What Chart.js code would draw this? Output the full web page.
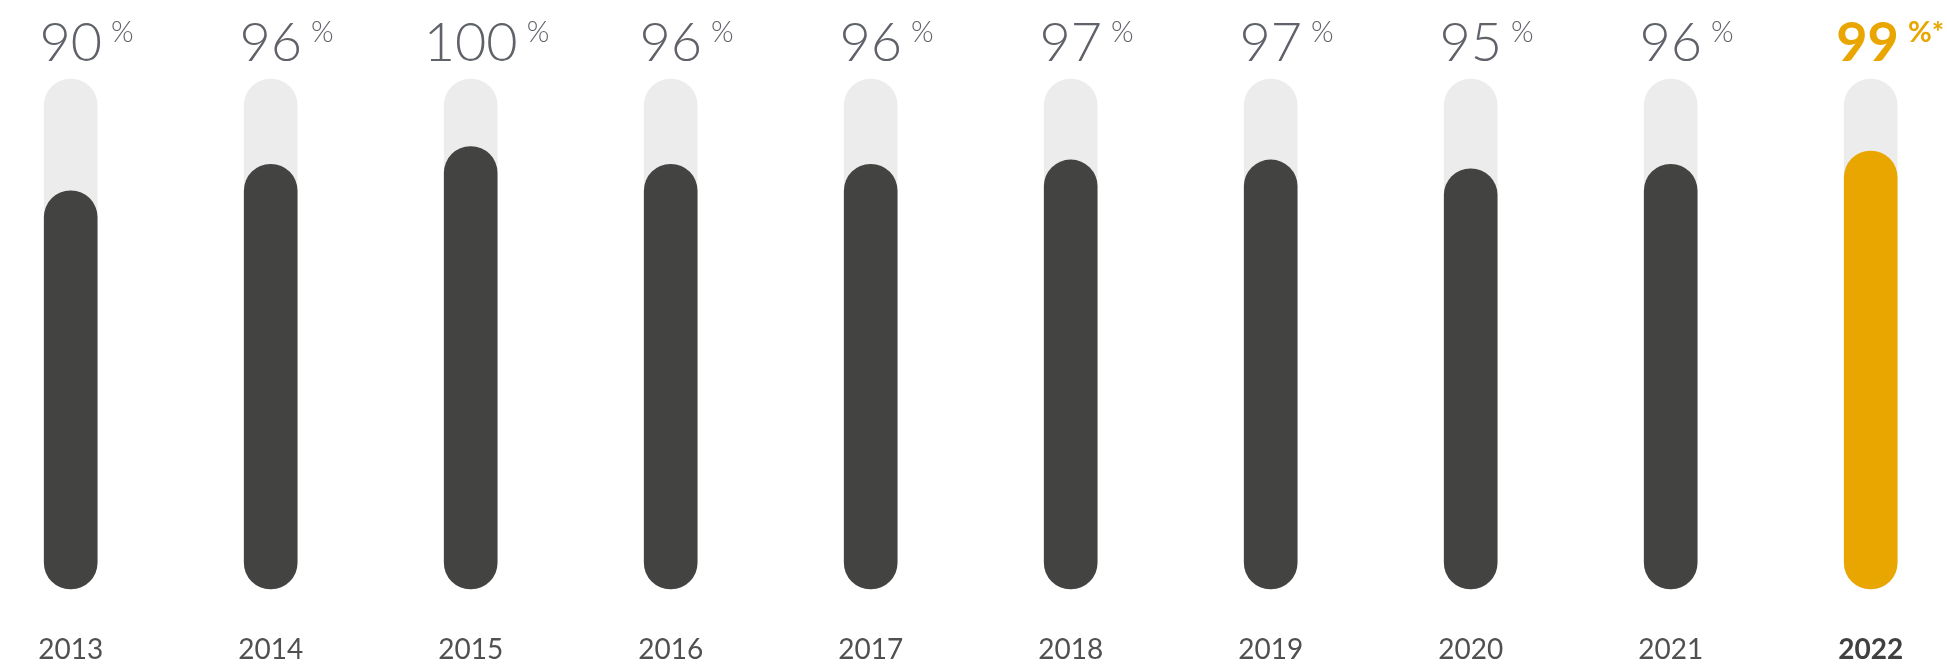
<!DOCTYPE html>
<html>
<head>
<meta charset="utf-8">
<script src="https://cdn.jsdelivr.net/npm/chart.js@4/dist/chart.umd.min.js"></script>
<style>
  html, body { margin: 0; padding: 0; background: #ffffff; }
  #wrap { width: 1947px; height: 665px; position: relative; }
</style>
</head>
<body>
<div id="wrap"><canvas id="c" width="1947" height="665"></canvas></div>
<script>
// ---- data ----
const years = ['2013', '2014', '2015', '2016', '2017', '2018', '2019', '2020', '2021', '2022'];
const values = [90, 96, 100, 96, 96, 97, 97, 95, 96, 99];
const suffixes = ['%', '%', '%', '%', '%', '%', '%', '%', '%', '%*'];
const highlightYear = '2022';
const scaleMax = 115.3;   // top of the light track
const trackValues = years.map(() => scaleMax);

// ---- style ----
const DARK = '#434341';
const GOLD = '#e9a600';
const TRACK = '#ececec';
const LABEL_GREY = '#606269';
const YEAR_GREY = '#505050';
const FONT = 'Lato, "Open Sans", sans-serif';

const labelPlugin = {
  id: 'labels',
  afterDatasetsDraw(chart) {
    const ctx = chart.ctx;
    const xs = chart.scales.x;
    ctx.save();
    years.forEach((yr, i) => {
      const cx = xs.getPixelForValue(i);
      const hi = yr === highlightYear;
      // big value
      const numFont = (hi ? '700 ' : '300 ') + '54px ' + FONT;
      const supFont = (hi ? '700 ' : '300 ') + '29px ' + FONT;
      ctx.font = numFont;
      const num = String(values[i]);
      const nw = ctx.measureText(num).width;
      ctx.font = supFont;
      const sw = ctx.measureText(suffixes[i]).width;
      const gap = 9;
      let left = cx - nw / 2;
      const right = left + nw + gap + sw;
      if (right > chart.width - 3) left -= right - (chart.width - 3);
      ctx.fillStyle = hi ? GOLD : LABEL_GREY;
      ctx.textBaseline = 'alphabetic';
      ctx.textAlign = 'left';
      ctx.font = numFont;
      ctx.fillText(num, left, 61);
      ctx.font = supFont;
      ctx.fillText(suffixes[i], left + nw + gap, 42);
      // year label
      ctx.textAlign = 'center';
      ctx.font = (hi ? '700 ' : '400 ') + '28px ' + FONT;
      ctx.fillStyle = hi ? '#404040' : YEAR_GREY;
      ctx.fillText(yr, cx, 659);
    });
    ctx.restore();
  }
};

new Chart(document.getElementById('c'), {
  type: 'bar',
  data: {
    labels: years,
    datasets: [
      {
        label: 'value',
        data: values,
        backgroundColor: years.map(y => y === highlightYear ? GOLD : DARK),
        barThickness: 53,
        borderRadius: 26.5,
        borderSkipped: false,
        grouped: false,
        clip: false,
        order: 1
      },
      {
        label: 'track',
        data: trackValues,
        backgroundColor: TRACK,
        barThickness: 53,
        borderRadius: 26.5,
        borderSkipped: false,
        grouped: false,
        clip: false,
        order: 2
      }
    ]
  },
  options: {
    responsive: false,
    animation: false,
    events: [],
    layout: { padding: { left: 70.7, right: 76.3, top: 79, bottom: 76 } },
    plugins: { legend: { display: false }, tooltip: { enabled: false } },
    scales: {
      x: { display: false, offset: false, grid: { display: false } },
      y: { display: false, min: 0, max: scaleMax }
    }
  },
  plugins: [labelPlugin]
});
</script>
</body>
</html>
